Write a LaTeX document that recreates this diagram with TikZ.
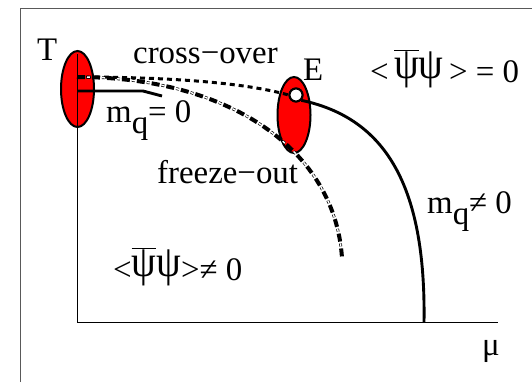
\documentclass[tikz,border=0pt]{standalone}
\usepackage{fontspec}
\setmainfont{Liberation Serif}
\usetikzlibrary{shapes.geometric}
\newcommand{\bigpsi}{\raisebox{0.1em}{\scalebox{1.2}[1.35]{ψ}}}
\newcommand{\psibar}{\ensuremath{\overline{\hbox{\bigpsi}}}}
\begin{document}
\begin{tikzpicture}[x=1bp,y=-1bp,
  lbl/.style={inner sep=0pt, anchor=base west, font=\fontsize{33}{38}\selectfont},
  phase/.style={ellipse, draw=black, line width=2bp, fill=red, inner sep=0pt,
                minimum width=33bp, minimum height=76bp},
  axisline/.style={line width=1bp, black},
  solidline/.style={line width=2.9bp, black},
  crossline/.style={line width=3bp, dash pattern=on 5bp off 4bp},
  freezethick/.style={line width=4bp, dash pattern=on 8bp off 7bp},
  freezethin/.style={double, line width=0.7bp, double distance=1.4bp,
                     dash pattern=on 3bp off 12bp, dash phase=5bp},
  hole/.style={circle, draw=black, fill=white, line width=2bp, inner sep=0pt,
               minimum size=13bp}]
\useasboundingbox (0,0) rectangle (532,382);
% frame
\draw[line width=1bp, black!65] (20,382) -- (20,8) -- (532,8);
% phase ellipses
\node[phase] (T) at (77.5,89) {};
\node[phase] (E) at (294,115) {};
% axes
\coordinate (O) at (77,322);
\coordinate (Ttop) at (77,54);
\coordinate (Mend) at (498,322);
\draw[axisline] (Ttop) -- (O) -- (Mend);
% curves
\coordinate (S) at (77,77);
\coordinate (S0) at (77,91);
\coordinate (K) at (143,91);
\coordinate (K2) at (162,96);
\coordinate (F) at (342,258);
\coordinate (C) at (424,322);
\node[hole] (Ec) at (296,95) {};
\draw[solidline] (S0) -- (K) -- (K2);
\draw[crossline] (S) .. controls (180,77) and (250,84) .. (Ec.west);
\draw[freezethick] (S) .. controls (230,77) and (335,150) .. (F);
\draw[freezethin] (S) .. controls (230,77) and (335,150) .. (F);
\draw[solidline] (Ec.south east) .. controls (385,118) and (426,185) .. (C);
\node[hole] at (Ec) {};
% labels
\node[lbl] (lT) at (37,60) {T};
\node[lbl] (lcross) at (133,63) {cross−over};
\node[lbl] (lE) at (303,80) {E};
\node[lbl] (lsym) at (370,82) {<\,\psibar\bigpsi\,> = 0};
\node[lbl] (lmq0) at (106,122) {m\raisebox{-0.36em}{q}= 0};
\node[lbl] (lfreeze) at (157,183) {freeze−out};
\node[lbl] (lmqn) at (427,213) {m\raisebox{-0.36em}{q}≠ 0};
\node[lbl] (lbroken) at (113,280) {<\psibar\bigpsi>≠ 0};
\node[lbl] (lmu) at (482,355) {μ};
\end{tikzpicture}
\end{document}
